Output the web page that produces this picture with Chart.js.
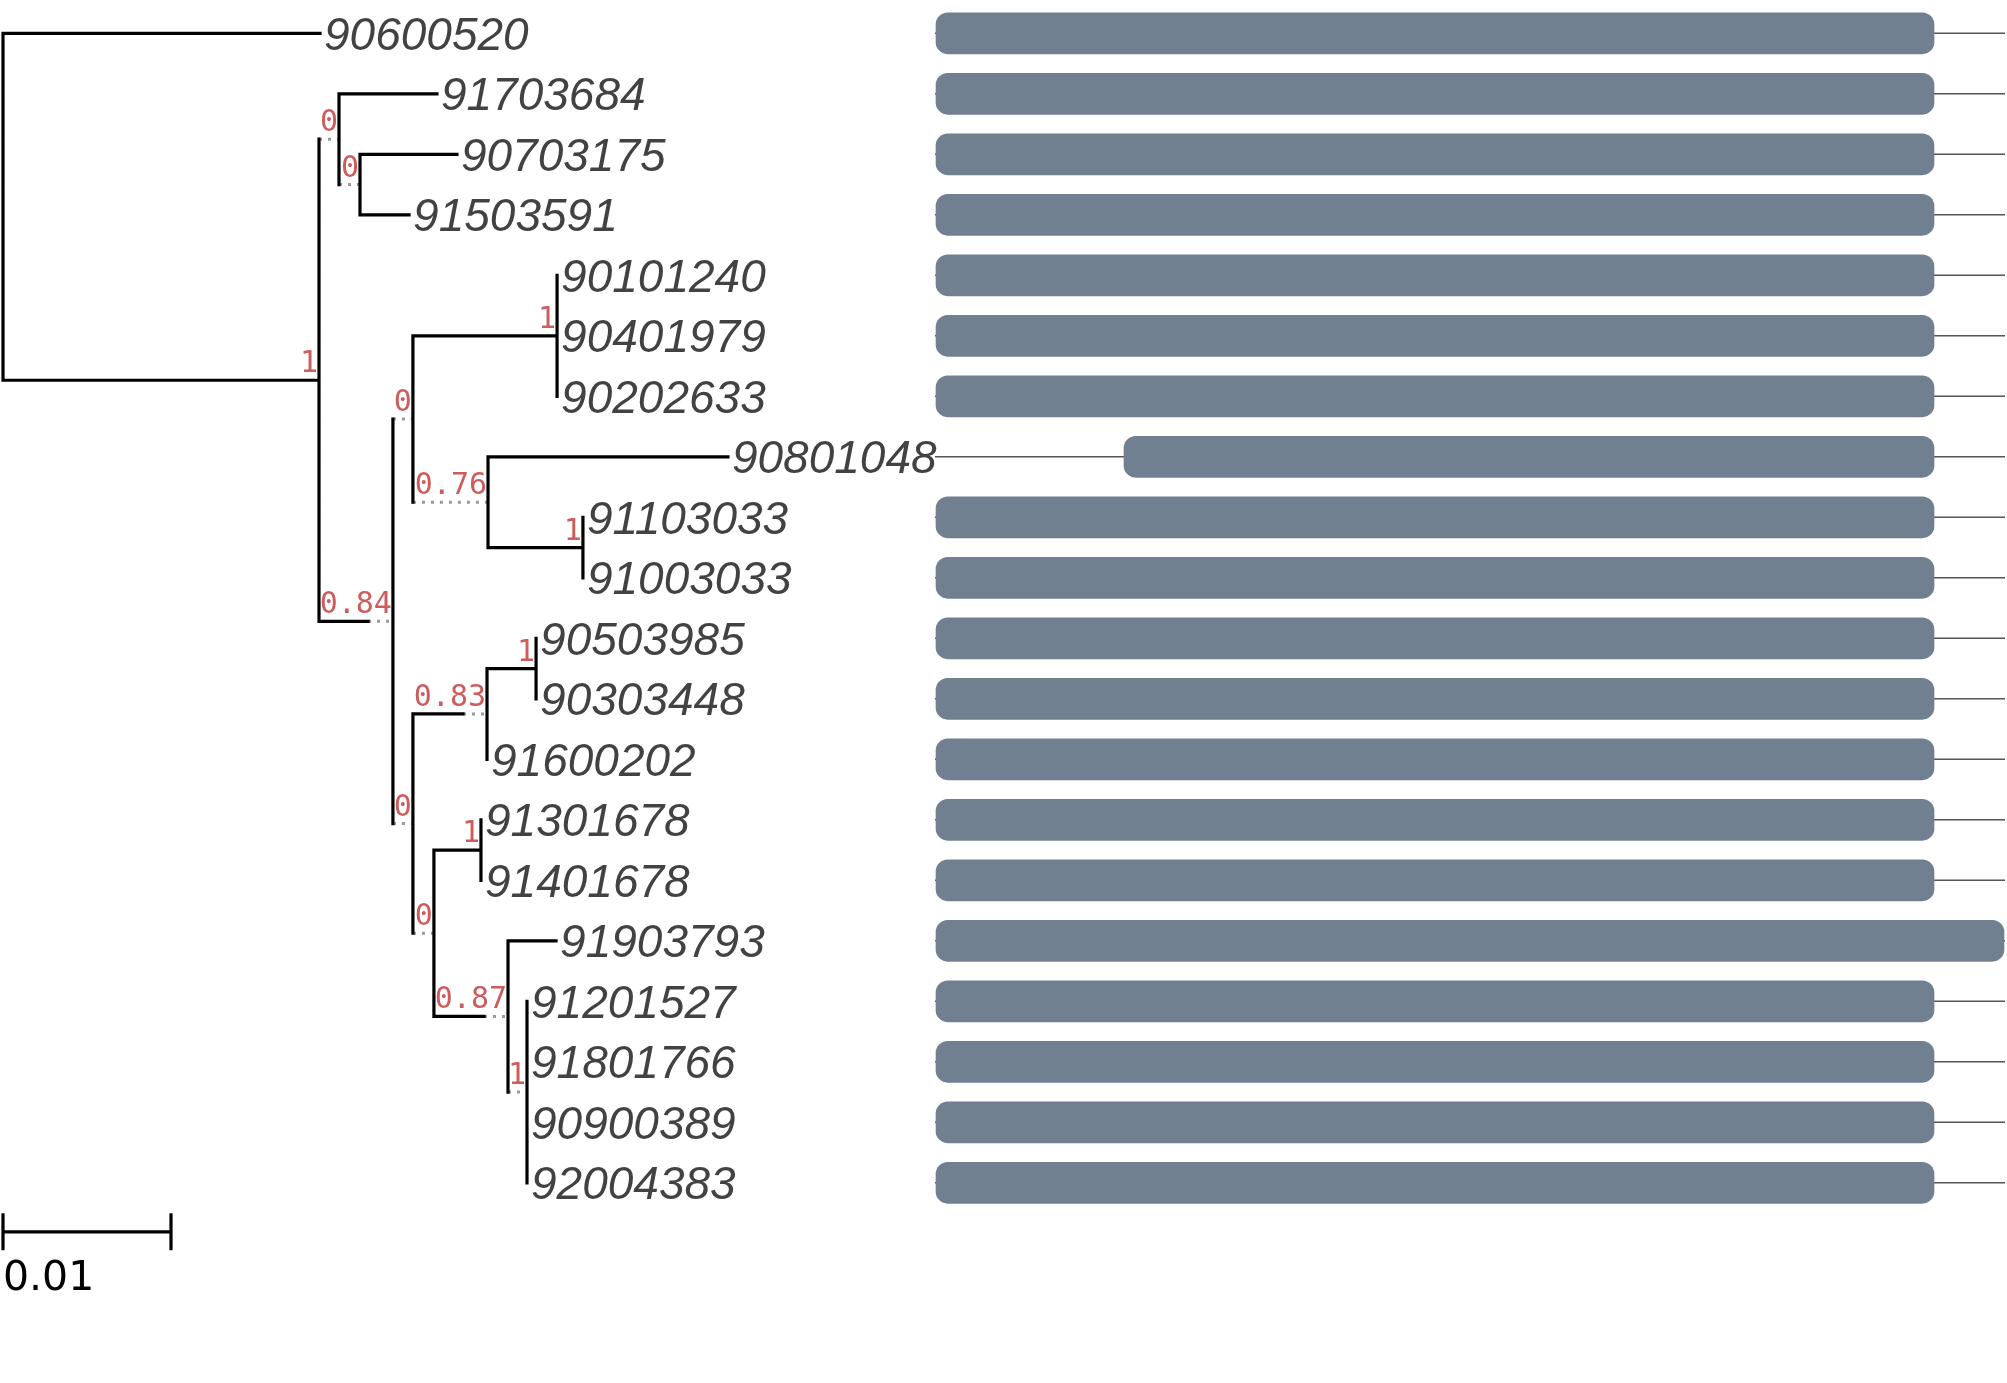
<!DOCTYPE html>
<html>
<head>
<meta charset="utf-8">
<script src="https://cdn.jsdelivr.net/npm/chart.js@4"></script>
<style>
  html, body { margin: 0; padding: 0; background: #ffffff; }
  #wrap { width: 2007px; height: 1383px; position: relative; }
</style>
</head>
<body>
<div id="wrap"><canvas id="c"></canvas></div>
<script>
// ---------- DATA ----------
// tip (leaf) names, in display order top to bottom
const tipNames = ["90600520","91703684","90703175","91503591","90101240","90401979","90202633",
  "90801048","91103033","91003033","90503985","90303448","91600202","91301678","91401678",
  "91903793","91201527","91801766","90900389","92004383"];
// depth (substitutions/site, as drawn) where each tip's branch ends
const tipDepth = [0.01887,0.02583,0.02702,0.02417,0.03298,0.03298,0.03298,0.04315,0.03452,0.03452,
  0.03173,0.03173,0.02881,0.02845,0.02845,0.03292,0.03119,0.03119,0.03119,0.03119];

// internal nodes
const nodeIds = ["root","A","B","C","D","E","F","G","H","I","J","K","L","M","N","O"];
const nodeChildren = [["t0","A"],["B","D"],["t1","C"],["t2","t3"],["E","I"],["F","G"],["t4","t5","t6"],
  ["t7","H"],["t8","t9"],["J","L"],["K","t12"],["t10","t11"],["M","N"],["t13","t14"],["t15","O"],
  ["t16","t17","t18","t19"]];
// drawn depth of each node's vertical line
const nodeDepth = [0,0.01881,0.02000,0.02125,0.02321,0.02440,0.03298,0.02887,0.03452,0.02440,
  0.02881,0.03173,0.02565,0.02845,0.03006,0.03119];
// true branch length (solid part); the rest up to nodeDepth is a dotted extension
const nodeBranchLength = [0,0.01881,0,0,0.00292,0,0.00857,0,0.00565,0,0.00298,0.00292,0,0.00280,0.00298,0];
// support values
const nodeSupport = [null,1,0,0,0.84,0,1,0.76,1,0,0.83,1,0,1,0.87,1];

// sequence / domain architecture (alignment positions)
const seqLength   = [1070,1070,1070,1070,1070,1070,1070,1070,1070,1070,1070,1070,1070,1070,1070,1070,1070,1070,1070,1070];
const domainStart = [1,1,1,1,1,1,1,189,1,1,1,1,1,1,1,1,1,1,1,1];
const domainEnd   = [999,999,999,999,999,999,999,999,999,999,999,999,999,999,999,1069,999,999,999,999];

// scale bar
const scaleBarLength = 0.01;
const scaleBarLabel = "0.01";

// ---------- BUILD ----------
const nodeIndex = {};
nodeIds.forEach((id, i) => nodeIndex[id] = i);

function yOf(id) {
  if (id[0] === 't') return parseInt(id.slice(1), 10);
  const ch = nodeChildren[nodeIndex[id]];
  return (yOf(ch[0]) + yOf(ch[ch.length - 1])) / 2;
}
function depthOf(id) {
  if (id[0] === 't') return tipDepth[parseInt(id.slice(1), 10)];
  return nodeDepth[nodeIndex[id]];
}
const GAP = {x: NaN, y: NaN};
const solidSegs = [], dottedSegs = [];
nodeIds.forEach((id, i) => {
  const ch = nodeChildren[i];
  solidSegs.push({x: nodeDepth[i], y: yOf(ch[0])}, {x: nodeDepth[i], y: yOf(ch[ch.length - 1])}, GAP);
  ch.forEach(c => {
    const x0 = nodeDepth[i];
    const x1 = depthOf(c);
    const yy = yOf(c);
    if (c[0] === 't') {
      if (x1 > x0) solidSegs.push({x: x0, y: yy}, {x: x1, y: yy}, GAP);
    } else {
      const bl = nodeBranchLength[nodeIndex[c]];
      if (bl > 0) solidSegs.push({x: x0, y: yy}, {x: x0 + bl, y: yy}, GAP);
      if (x0 + bl < x1) dottedSegs.push({x: x0 + bl, y: yy}, {x: x1, y: yy}, GAP);
    }
  });
});

const backbone = [];
seqLength.forEach((L, i) => backbone.push({x: 0, y: i}, {x: L, y: i}, GAP));
const domains = domainStart.map((s, i) => ({x: [s, domainEnd[i]], y: i}));

const scaleBarRow = 19.81, scaleTick = 0.305;
const scaleBar = [
  {x: 0, y: scaleBarRow}, {x: scaleBarLength, y: scaleBarRow}, GAP,
  {x: 0, y: scaleBarRow - scaleTick}, {x: 0, y: scaleBarRow + scaleTick}, GAP,
  {x: scaleBarLength, y: scaleBarRow - scaleTick}, {x: scaleBarLength, y: scaleBarRow + scaleTick}
];

// ---------- TEXT PLUGIN ----------
const textPlugin = {
  id: 'treeText',
  afterDatasetsDraw(chart) {
    const ctx = chart.ctx, xt = chart.scales.xt, ys = chart.scales.y;
    ctx.save();
    ctx.textAlign = 'left';
    ctx.textBaseline = 'alphabetic';
    ctx.font = "italic 46px 'Liberation Sans'";
    ctx.fillStyle = '#424242';
    tipNames.forEach((n, i) => {
      ctx.fillText(n, xt.getPixelForValue(tipDepth[i]) + 4, ys.getPixelForValue(i) + 16.5);
    });
    ctx.font = "30px 'DejaVu Sans Mono'";
    ctx.fillStyle = '#cd5c5c';
    ctx.textAlign = 'right';
    nodeIds.forEach((id, i) => {
      if (nodeSupport[i] === null) return;
      ctx.fillText(String(nodeSupport[i]), xt.getPixelForValue(nodeDepth[i]) - 1, ys.getPixelForValue(yOf(id)) - 8);
    });
    ctx.font = "41px 'DejaVu Sans'";
    ctx.fillStyle = '#000000';
    ctx.textAlign = 'left';
    ctx.fillText(scaleBarLabel, xt.getPixelForValue(0), ys.getPixelForValue(scaleBarRow) + 58);
    ctx.restore();
  }
};

// ---------- CHART ----------
const W = 2007, H = 1383;
const treePxPerUnit = 16800, treeOrigin = 3;
const alnOrigin = 935;
const rowPx = 60.5, rowOrigin = 33.3;

new Chart(document.getElementById('c'), {
  type: 'scatter',
  data: {
    datasets: [
      { type: 'line', label: 'branches', data: solidSegs, xAxisID: 'xt', yAxisID: 'y',
        borderColor: '#000000', borderWidth: 3.2, pointRadius: 0, borderCapStyle: 'square',
        spanGaps: false, tension: 0, fill: false, order: 0 },
      { type: 'line', label: 'extensions', data: dottedSegs, xAxisID: 'xt', yAxisID: 'y',
        borderColor: '#999999', borderWidth: 3, borderDash: [3, 6], pointRadius: 0,
        spanGaps: false, tension: 0, fill: false, order: 0 },
      { type: 'line', label: 'scale', data: scaleBar, xAxisID: 'xt', yAxisID: 'y',
        borderColor: '#000000', borderWidth: 3.2, pointRadius: 0,
        spanGaps: false, tension: 0, fill: false, order: 0 },
      { type: 'bar', label: 'domains', data: domains, indexAxis: 'y', xAxisID: 'xa', yAxisID: 'y',
        backgroundColor: '#708090', borderWidth: 0, borderRadius: 12, borderSkipped: false,
        barThickness: 41, grouped: false, order: 1 },
      { type: 'line', label: 'sequence', data: backbone, xAxisID: 'xa', yAxisID: 'y',
        borderColor: '#555555', borderWidth: 1.5, pointRadius: 0,
        spanGaps: false, tension: 0, fill: false, order: 2 }
    ]
  },
  options: {
    responsive: true,
    maintainAspectRatio: false,
    devicePixelRatio: 1,
    animation: false,
    layout: { padding: 0 },
    plugins: { legend: { display: false }, title: { display: false }, tooltip: { enabled: false } },
    scales: {
      xt: { type: 'linear', axis: 'x', display: false, offset: false,
            min: -treeOrigin / treePxPerUnit, max: (W - treeOrigin) / treePxPerUnit },
      xa: { type: 'linear', axis: 'x', display: false, offset: false,
            min: -alnOrigin, max: W - alnOrigin },
      y:  { type: 'linear', display: false, reverse: true, offset: false,
            min: -rowOrigin / rowPx, max: (H - rowOrigin) / rowPx }
    }
  },
  plugins: [textPlugin]
});
</script>
</body>
</html>
